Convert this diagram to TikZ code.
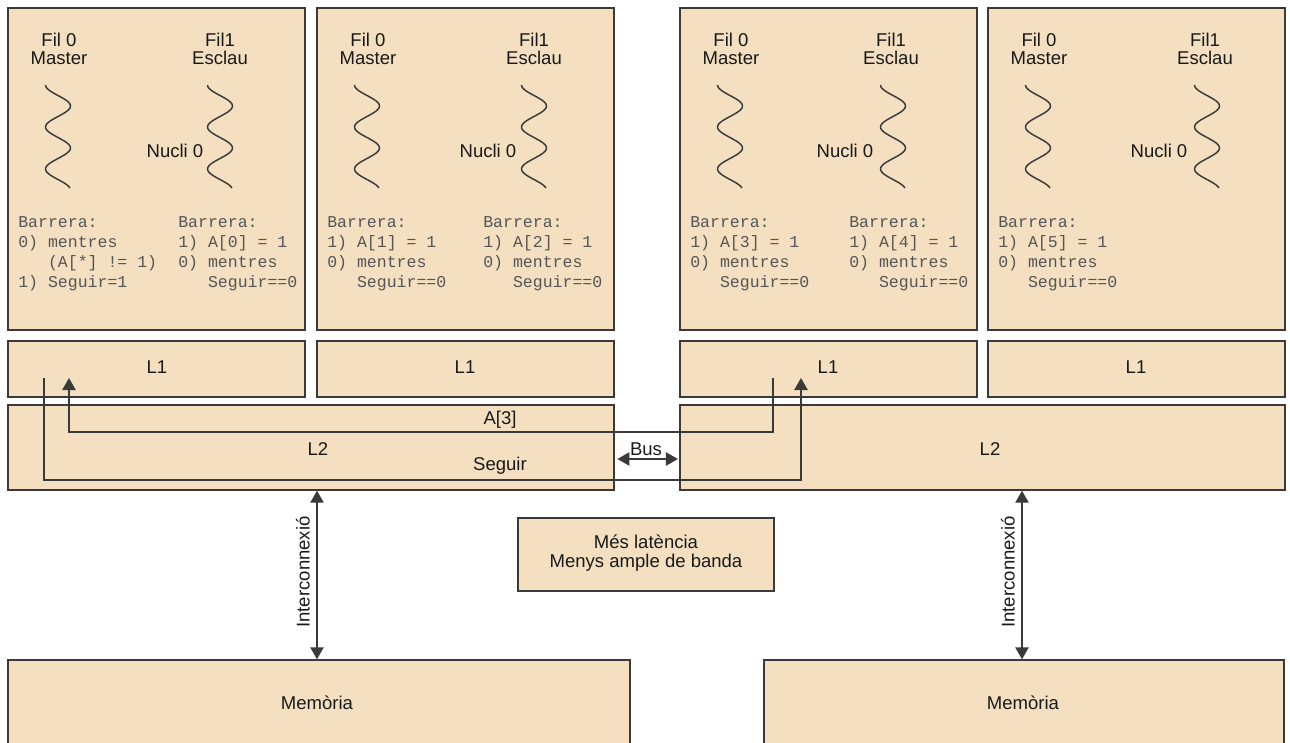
\documentclass[tikz,border=0pt]{standalone}
\usepackage{fontspec}
\setmainfont{Liberation Sans}
\newfontfamily\codefont{Liberation Mono}
\usetikzlibrary{fit,arrows.meta}
\definecolor{boxfill}{HTML}{F4E0C1}
\definecolor{edge}{HTML}{3A3A3A}
\definecolor{codegray}{HTML}{555555}
\tikzset{
  box/.style={draw=edge, fill=boxfill, line width=1.1pt, inner sep=0pt},
  lbl/.style={inner sep=0pt, font=\fontsize{13.9}{14}\selectfont, align=center, text=black!90},
  code/.style={inner sep=0pt, anchor=north west, align=left, text=codegray, font=\codefont\fontsize{12.4}{15}\selectfont},
  wire/.style={draw=edge, line width=1.1pt},
  arrowend/.style={-{Triangle[width=10pt,length=9pt]}},
  arrowboth/.style={{Triangle[width=10pt,length=9pt]}-{Triangle[width=10pt,length=9pt]}},
}
\newcommand{\wave}[1]{\draw[edge, line width=1.1pt] plot[smooth, domain=0:103, samples=60] ({#1-12.5*cos(8.5714*\x)}, {\x+85});}
\begin{document}
\begin{tikzpicture}[x=0.75pt,y=-0.75pt]
\clip (0,0) rectangle (1290,743);
\fill[white] (0,0) rectangle (1290,743);
% core boxes
\node[box, fit={(8,8)(305,330)}] (c1) {};
\node[box, fit={(317,8)(614,330)}] (c2) {};
\node[box, fit={(680,8)(977,330)}] (c3) {};
\node[box, fit={(988,8)(1285,330)}] (c4) {};
% L1 boxes
\node[box, fit={(8,341)(305,397)}] (l1a) {};
\node[box, fit={(317,341)(614,397)}] (l1b) {};
\node[box, fit={(680,341)(977,397)}] (l1c) {};
\node[box, fit={(988,341)(1285,397)}] (l1d) {};
\node[lbl] (l1at) at (157,367) {L1};
\node[lbl] (l1bt) at (465,367) {L1};
\node[lbl] (l1ct) at (828,367) {L1};
\node[lbl] (l1dt) at (1136,367) {L1};
% L2 boxes
\node[box, fit={(8,405)(614,490)}] (l2a) {};
\node[box, fit={(680,405)(1285,490)}] (l2b) {};
\node[lbl] (l2at) at (318,449) {L2};
\node[lbl] (l2bt) at (990,449) {L2};
% memory
\node[box, fit={(8,660)(630,760)}] (mema) {};
\node[box, fit={(764,660)(1284,760)}] (memb) {};
\node[lbl] (memat) at (317,703) {Memòria};
\node[lbl] (membt) at (1023,703) {Memòria};
% latency note
\node[box, fit={(518,518)(774,591)}] (lat) {};
\node[lbl] (latt) at (646,553) {Més latència\\Menys ample de banda};
% thread headers
\foreach \b/\f/\e/\n in {8/59/220/175, 317/368/534/488, 680/731/891/845, 988/1039/1205/1159}{
  \node[lbl] at (\f,49) {Fil 0\\Master};
  \node[lbl] at (\e,49) {Fil1\\Esclau};
  \node[lbl] at (\n,151) {Nucli 0};
}
\wave{58}\wave{220}
\wave{367}\wave{534}
\wave{730}\wave{893}
\wave{1038}\wave{1207}
% code
\node[code] (k1a) at (18,216) {Barrera:\\0) mentres\\\phantom{0) }(A[*] != 1)\\1) Seguir=1};
\node[code] (k1b) at (178,216) {Barrera:\\1) A[0] = 1\\0) mentres\\\phantom{0) }Seguir==0};
\node[code] (k2a) at (327,216) {Barrera:\\1) A[1] = 1\\0) mentres\\\phantom{0) }Seguir==0};
\node[code] (k2b) at (483,216) {Barrera:\\1) A[2] = 1\\0) mentres\\\phantom{0) }Seguir==0};
\node[code] (k3a) at (690,216) {Barrera:\\1) A[3] = 1\\0) mentres\\\phantom{0) }Seguir==0};
\node[code] (k3b) at (849,216) {Barrera:\\1) A[4] = 1\\0) mentres\\\phantom{0) }Seguir==0};
\node[code] (k4a) at (998,216) {Barrera:\\1) A[5] = 1\\0) mentres\\\phantom{0) }Seguir==0};
% signal paths
\coordinate (s0) at (44,378);
\coordinate (s1) at (801,378);
\coordinate (sb) at (0,480);
\draw[wire, arrowend] (s0) -- (s0 |- sb) -- (s1 |- sb) -- (s1);
\coordinate (a0) at (773,378);
\coordinate (a1) at (69,378);
\coordinate (ab) at (0,432);
\draw[wire, arrowend] (a0) -- (a0 |- ab) -- (a1 |- ab) -- (a1);
\node[lbl] (a3t) at (500,420) {A[3]};
\node[lbl] (segt) at (500,466) {Seguir};
% bus
\coordinate (busy) at (0,459);
\draw[wire, arrowboth, shorten <=2pt, shorten >=1pt] (l2a.east |- busy) -- (l2b.west |- busy);
\node[lbl] (bust) at (646,449) {Bus};
% interconnect
\coordinate (ixa) at (317,0);
\coordinate (ixb) at (1022,0);
\draw[wire, arrowboth] (l2a.south -| ixa) -- (mema.north -| ixa);
\draw[wire, arrowboth] (l2b.south -| ixb) -- (memb.north -| ixb);
\node[lbl, rotate=90] (ixat) at (303,572) {Interconnexió};
\node[lbl, rotate=90] (ixbt) at (1008,572) {Interconnexió};
\end{tikzpicture}
\end{document}
